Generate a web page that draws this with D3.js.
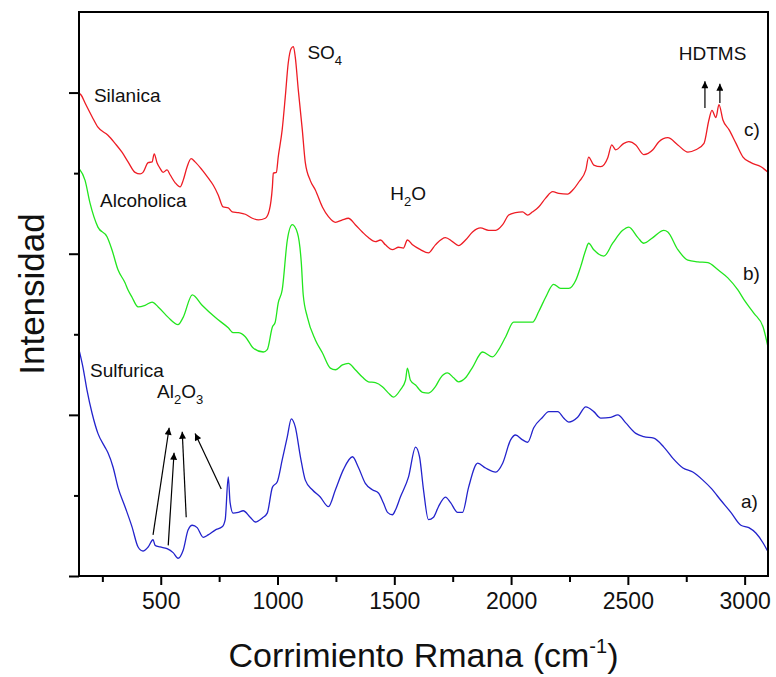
<!DOCTYPE html>
<html>
<head>
<meta charset="utf-8">
<script src="https://cdn.jsdelivr.net/npm/d3@7/dist/d3.min.js"></script>
<style>
  html, body { margin: 0; padding: 0; background: #fff; }
  svg { display: block; font-family: "Liberation Sans", Arial, sans-serif; }
</style>
</head>
<body>
<svg id="chart" width="776" height="677"></svg>
<script>
// Raman spectra: [Raman shift (cm^-1), intensity (a.u., offset per trace)]
const silanica = [
  [150,5.99],[159,5.97],[176,5.87],[206,5.70],[231,5.57],[274,5.47],[304,5.37],[334,5.26],
  [360,5.14],[390,5.01],[412,4.99],[424,5.01],[446,5.13],[463,5.14],[472,5.24],[484,5.13],
  [497,5.06],[510,5.01],[527,5.04],[540,4.98],[562,4.88],[583,4.83],[596,4.91],[613,5.08],
  [630,5.18],[647,5.14],[677,5.04],[703,4.94],[725,4.85],[746,4.73],[767,4.58],[789,4.57],
  [806,4.52],[832,4.51],[862,4.49],[892,4.44],[918,4.42],[948,4.44],[965,4.54],[978,4.83],
  [982,5.00],[995,5.01],[1003,5.20],[1020,5.54],[1033,5.94],[1046,6.37],[1059,6.55],[1068,6.57],
  [1076,6.44],[1089,6.03],[1106,5.54],[1119,5.13],[1140,4.91],[1162,4.79],[1192,4.58],[1218,4.46],
  [1248,4.39],[1278,4.42],[1303,4.44],[1333,4.36],[1363,4.27],[1389,4.20],[1419,4.15],[1441,4.17],
  [1462,4.11],[1492,4.05],[1518,4.08],[1539,4.07],[1556,4.17],[1578,4.11],[1612,4.05],[1646,4.01],
  [1676,4.11],[1719,4.20],[1749,4.15],[1775,4.10],[1805,4.17],[1835,4.27],[1869,4.32],[1904,4.29],
  [1934,4.29],[1964,4.36],[1990,4.48],[2019,4.51],[2049,4.52],[2071,4.48],[2092,4.52],[2118,4.58],
  [2148,4.69],[2178,4.77],[2204,4.75],[2242,4.74],[2264,4.79],[2290,4.89],[2320,5.04],[2332,5.20],
  [2354,5.10],[2384,5.08],[2414,5.19],[2431,5.35],[2448,5.29],[2483,5.37],[2504,5.39],[2534,5.35],
  [2568,5.23],[2607,5.29],[2633,5.39],[2671,5.44],[2714,5.35],[2757,5.26],[2791,5.29],[2826,5.37],
  [2847,5.66],[2860,5.78],[2877,5.69],[2890,5.85],[2907,5.66],[2933,5.54],[2963,5.37],[2993,5.20],
  [3027,5.13],[3070,5.08],[3100,5.01]
];

const alcoholica = [
  [150,5.06],[176,4.91],[197,4.63],[231,4.33],[270,4.21],[291,4.05],[317,3.80],[347,3.64],
  [360,3.55],[377,3.46],[403,3.34],[433,3.36],[463,3.40],[489,3.34],[532,3.21],[574,3.12],
  [596,3.21],[635,3.49],[677,3.36],[733,3.21],[789,3.08],[810,3.02],[832,3.02],[862,2.97],
  [896,2.83],[939,2.78],[956,2.81],[978,3.09],[990,3.15],[1003,3.39],[1020,3.55],[1042,4.17],
  [1063,4.36],[1085,4.26],[1102,3.88],[1110,3.49],[1128,3.21],[1162,2.93],[1192,2.77],[1226,2.58],
  [1248,2.56],[1278,2.62],[1303,2.64],[1333,2.56],[1363,2.47],[1389,2.41],[1419,2.40],[1449,2.35],
  [1475,2.27],[1496,2.22],[1526,2.31],[1548,2.43],[1556,2.58],[1569,2.43],[1591,2.37],[1621,2.28],
  [1646,2.27],[1676,2.35],[1698,2.46],[1728,2.52],[1754,2.46],[1775,2.41],[1805,2.46],[1835,2.59],
  [1878,2.78],[1921,2.72],[1947,2.81],[1977,2.97],[2011,3.15],[2049,3.15],[2092,3.15],[2118,3.28],
  [2148,3.46],[2182,3.62],[2212,3.57],[2247,3.57],[2277,3.67],[2298,3.84],[2320,4.05],[2332,4.13],
  [2354,4.05],[2397,3.97],[2435,4.13],[2478,4.29],[2504,4.33],[2543,4.20],[2568,4.13],[2607,4.20],
  [2654,4.29],[2671,4.27],[2714,4.05],[2757,3.92],[2800,3.90],[2843,3.89],[2886,3.80],[2928,3.70],
  [2971,3.55],[2997,3.43],[3040,3.26],[3079,3.09],[3100,2.84]
];

const sulfurica = [
  [150,2.81],[167,2.59],[184,2.31],[206,2.02],[231,1.77],[261,1.60],[274,1.53],[296,1.35],
  [317,1.10],[347,0.86],[377,0.61],[403,0.36],[424,0.31],[446,0.36],[467,0.45],[476,0.38],
  [497,0.36],[527,0.34],[553,0.29],[574,0.22],[596,0.32],[617,0.57],[635,0.63],[656,0.60],
  [682,0.48],[703,0.51],[733,0.57],[763,0.61],[776,0.70],[789,1.23],[797,0.91],[810,0.78],
  [832,0.79],[853,0.81],[883,0.73],[905,0.67],[935,0.72],[956,0.78],[978,1.10],[999,1.17],
  [1020,1.44],[1042,1.73],[1059,1.95],[1076,1.85],[1098,1.48],[1119,1.19],[1149,1.07],[1183,0.98],
  [1218,0.86],[1248,1.07],[1282,1.32],[1321,1.48],[1346,1.35],[1376,1.15],[1406,1.07],[1432,1.03],
  [1453,0.91],[1471,0.79],[1492,0.76],[1505,0.82],[1526,0.98],[1561,1.23],[1591,1.60],[1608,1.48],
  [1625,1.07],[1646,0.70],[1668,0.73],[1689,0.86],[1719,0.98],[1741,0.91],[1771,0.79],[1792,0.79],
  [1818,1.10],[1857,1.40],[1891,1.34],[1934,1.29],[1964,1.40],[1998,1.69],[2019,1.75],[2049,1.69],
  [2071,1.66],[2097,1.84],[2135,1.97],[2161,2.04],[2200,2.04],[2225,1.96],[2247,1.91],[2285,1.97],
  [2320,2.10],[2354,2.04],[2384,1.96],[2427,1.97],[2457,2.00],[2491,1.90],[2534,1.77],[2568,1.73],
  [2611,1.71],[2654,1.60],[2693,1.46],[2736,1.34],[2778,1.29],[2821,1.19],[2856,1.09],[2898,0.94],
  [2941,0.79],[2984,0.63],[3018,0.60],[3049,0.53],[3079,0.41],[3100,0.30]
];

const xMajorTicks = [500, 1000, 1500, 2000, 2500, 3000];
const xMinorTicks = [250, 750, 1250, 1750, 2250, 2750];
const yMajorTicks = [0, 2, 4, 6];
const yMinorTicks = [1, 3, 5];

// Band assignments: [tail shift, tail intensity, tip shift, tip intensity]
const al2o3Arrows = [
  [467, 0.51, 536, 1.84],
  [532, 0.38, 557, 1.53],
  [609, 0.73, 592, 1.79],
  [759, 1.08, 647, 1.77]
];
const hdtmsArrows = [
  [2830, 5.81, 2830, 6.14],
  [2894, 5.87, 2894, 6.11]
];

const svg = d3.select("#chart");
const margin = { left: 79, top: 12, right: 8, bottom: 101 };
const W = 776, H = 677;

const x = d3.scaleLinear().domain([150, 3100]).range([margin.left, W - margin.right]);
const y = d3.scaleLinear().domain([0, 7]).range([H - margin.bottom, margin.top]);

const x0 = x.range()[0], x1 = x.range()[1];
const y0 = y.range()[0], y1 = y.range()[1];

// spectra
const line = d3.line().curve(d3.curveMonotoneX).x(d => x(d[0])).y(d => y(d[1]));
const series = [
  { data: silanica, color: "#ee1c24" },
  { data: alcoholica, color: "#22e61e" },
  { data: sulfurica, color: "#2323cc" }
];
series.forEach(s => {
  svg.append("path")
    .datum(s.data)
    .attr("d", line)
    .attr("fill", "none")
    .attr("stroke", s.color)
    .attr("stroke-width", 1.3)
    .attr("stroke-linejoin", "round");
});

// frame
svg.append("rect")
  .attr("x", x0).attr("y", y1)
  .attr("width", x1 - x0).attr("height", y0 - y1)
  .attr("fill", "none").attr("stroke", "#000").attr("stroke-width", 2);

// bottom axis
const xAxis = svg.append("g").attr("transform", `translate(0,${y0})`);
xAxis.call(d3.axisBottom(x).tickValues(xMajorTicks).tickSize(9).tickPadding(8).tickFormat(d3.format("d")));
xAxis.select(".domain").remove();
xAxis.selectAll(".tick line").attr("stroke-width", 2);
xAxis.selectAll(".tick text").attr("font-size", 23).attr("font-family", "Liberation Sans, Arial, sans-serif").attr("fill", "#111");
const xMinor = svg.append("g").attr("transform", `translate(0,${y0})`);
xMinor.call(d3.axisBottom(x).tickValues(xMinorTicks).tickSize(6).tickFormat(""));
xMinor.select(".domain").remove();
xMinor.selectAll(".tick line").attr("stroke-width", 2);

// left axis (no labels)
const yAxis = svg.append("g").attr("transform", `translate(${x0},0)`);
yAxis.call(d3.axisLeft(y).tickValues(yMajorTicks).tickSize(10).tickFormat(""));
yAxis.select(".domain").remove();
yAxis.selectAll(".tick line").attr("stroke-width", 2);
const yMinor = svg.append("g").attr("transform", `translate(${x0},0)`);
yMinor.call(d3.axisLeft(y).tickValues(yMinorTicks).tickSize(5).tickFormat(""));
yMinor.select(".domain").remove();
yMinor.selectAll(".tick line").attr("stroke-width", 2);

// axis titles
const xt = svg.append("text")
  .attr("x", (x0 + x1) / 2).attr("y", 667)
  .attr("text-anchor", "middle").attr("font-size", 34).attr("fill", "#111");
xt.append("tspan").text("Corrimiento Rmana (cm");
xt.append("tspan").attr("font-size", 20).attr("dy", -14).text("-1");
xt.append("tspan").attr("dy", 14).text(")");

svg.append("text")
  .attr("transform", `translate(44,${(y0 + y1) / 2}) rotate(-90)`)
  .attr("text-anchor", "middle").attr("font-size", 35).attr("fill", "#111")
  .text("Intensidad");

// arrow head
svg.append("defs").append("marker")
  .attr("id", "head").attr("viewBox", "0 0 10 10")
  .attr("refX", 10).attr("refY", 5)
  .attr("markerWidth", 9).attr("markerHeight", 7)
  .attr("markerUnits", "userSpaceOnUse")
  .attr("orient", "auto")
  .append("path").attr("d", "M0,0 L10,5 L0,10 Z").attr("fill", "#000");

[...al2o3Arrows, ...hdtmsArrows].forEach(a => {
  svg.append("line")
    .attr("x1", x(a[0])).attr("y1", y(a[1]))
    .attr("x2", x(a[2])).attr("y2", y(a[3]))
    .attr("stroke", "#000").attr("stroke-width", 1.2)
    .attr("marker-end", "url(#head)");
});

// annotations
const fs = 19;
function label(wn, inten, parts) {
  const t = svg.append("text")
    .attr("x", x(wn)).attr("y", y(inten))
    .attr("font-size", fs).attr("fill", "#111");
  parts.forEach(p => {
    if (p.sub) {
      t.append("tspan").attr("font-size", 13).attr("dy", 6).text(p.t);
    } else {
      t.append("tspan").attr("dy", p.after ? -6 : 0).text(p.t);
    }
  });
  return t;
}
label(214, 5.88, [{ t: "Silanica" }]);
label(240, 4.58, [{ t: "Alcoholica" }]);
label(197, 2.47, [{ t: "Sulfurica" }]);
label(1128, 6.42, [{ t: "SO" }, { t: "4", sub: true }]);
label(1483, 4.67, [{ t: "H" }, { t: "2", sub: true }, { t: "O", after: true }]);
label(484, 2.21, [{ t: "Al" }, { t: "2", sub: true }, { t: "O", after: true }, { t: "3", sub: true }]);
label(2718, 6.40, [{ t: "HDTMS" }]);
label(2997, 5.46, [{ t: "c)" }]);
label(2993, 3.67, [{ t: "b)" }]);
label(2984, 0.84, [{ t: "a)" }]);
</script>
</body>
</html>
